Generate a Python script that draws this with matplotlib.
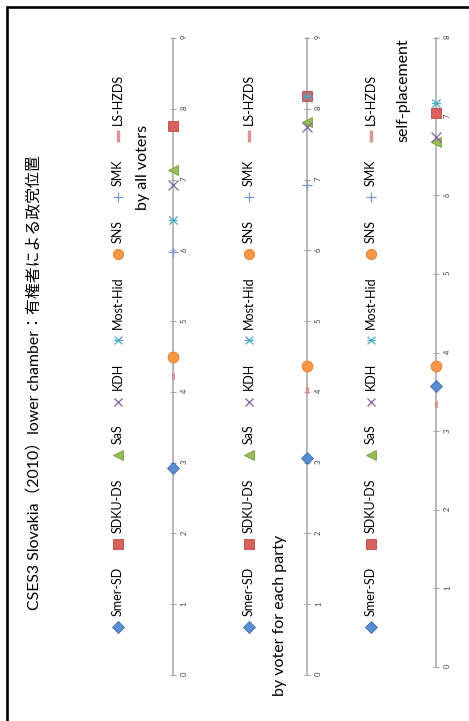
import matplotlib
matplotlib.use("Agg")
import matplotlib.pyplot as plt
import numpy as np
from matplotlib.path import Path

plt.rcParams['font.family'] = ['Lato', 'Noto Sans CJK JP', 'DejaVu Sans']

# ---- data -------------------------------------------------------------
title = "CSES3 Slovakia（2010）lower chamber：有権者による政党位置"
parties = ["Smer-SD", "SDKU-DS", "SaS", "KDH", "Most-Hid", "SNS", "SMK", "LS-HZDS"]
panel_titles = ["by all voters", "by voter for each party", "self-placement"]

by_all_voters = [2.92, 7.75, 7.14, 6.93, 6.43, 4.50, 5.98, 4.23]
by_own_voters = [3.07, 8.18, 7.82, 7.74, 8.18, 4.37, 6.92, 4.03]
self_placement = [3.57, 7.04, 6.68, 6.74, 7.17, 3.83, np.nan, 3.35]

scale_max = [9, 9, 8]

# ---- styles -----------------------------------------------------------
star_path = Path([(-1, -1), (1, 1), (-1, 1), (1, -1), (-1.1, 0), (1.1, 0)],
                 [Path.MOVETO, Path.LINETO, Path.MOVETO, Path.LINETO, Path.MOVETO, Path.LINETO])
dash_path = Path([(-0.4, -1), (0.4, -1), (0.4, 1), (-0.4, 1), (-0.4, -1)],
                 [Path.MOVETO, Path.LINETO, Path.LINETO, Path.LINETO, Path.CLOSEPOLY])

styles = [
    dict(marker='D', ms=6.4, mfc='#5B8CD3', mec='#3F6DB0', mew=0.6),
    dict(marker='s', ms=7.2, mfc='#D9605D', mec='#B84B48', mew=0.6),
    dict(marker='<', ms=7.2, mfc='#9BBB59', mec='#7A9A3C', mew=0.6),
    dict(marker='x', ms=6.5, mfc='none', mec='#8064A2', mew=0.9),
    dict(marker=star_path, ms=6.5, mfc='none', mec='#4BACC6', mew=0.9),
    dict(marker='o', ms=7.8, mfc='#F79646', mec='#E07E2C', mew=0.6),
    dict(marker='+', ms=7.0, mfc='none', mec='#7896C8', mew=0.9),
    dict(marker=dash_path, ms=5.0, mfc='#E0908E', mec='#D37F7D', mew=0.4),
]

W, H = 469, 721
fig = plt.figure(figsize=(W / 100, H / 100), dpi=100)

# full-figure layer in pixel coordinates for frame, titles and legends
lay = fig.add_axes([0, 0, 1, 1])
lay.set_xlim(0, W)
lay.set_ylim(H, 0)
lay.axis('off')

# outer frame (left and top edges)
lay.plot([7, 7, W + 5], [H + 5, 6.5, 6.5], color='black', lw=1.9,
         solid_joinstyle='miter', clip_on=False)

lay.text(35, 383, title, rotation=90, ha='center', va='center',
         fontsize=11.4, color='black')

# panel geometry: (axis x, pixel of top tick, pixel of 0 tick)
panel_geom = [(172.5, 38, 675), (307, 38, 675), (436, 38, 667)]
legend_x = [118, 249, 371]
subtitle_pos = [(143, 167), (280, 615), (403, 90)]
series = [by_all_voters, by_own_voters, self_placement]

fig.canvas.draw()
renderer = fig.canvas.get_renderer()

for p, (xc, top, bot) in enumerate(panel_geom):
    ax = fig.add_axes([(xc - 30) / W, 1 - bot / H, 60 / W, (bot - top) / H])
    ax.set_xlim(-30, 30)
    ax.set_ylim(0, scale_max[p])
    ax.patch.set_alpha(0)
    for s in ['left', 'top', 'bottom']:
        ax.spines[s].set_visible(False)
    ax.spines['right'].set_position(('data', 0))
    ax.spines['right'].set_color('#A6A6A6')
    ax.spines['right'].set_linewidth(1.1)
    ax.xaxis.set_visible(False)
    ax.yaxis.tick_right()
    ax.set_yticks(range(scale_max[p] + 1))
    ax.tick_params(axis='y', direction='inout', length=4.5, width=0.8,
                   color='#A6A6A6', labelsize=5.5, labelcolor='#404040',
                   pad=3.5, labelrotation=90)

    for i, v in enumerate(series[p]):
        if np.isnan(v):
            continue
        st = styles[i]
        ax.plot([0], [v], linestyle='none', marker=st['marker'], markersize=st['ms'],
                markerfacecolor=st['mfc'], markeredgecolor=st['mec'],
                markeredgewidth=st['mew'], clip_on=False, zorder=3 + i)

    # panel subtitle
    sx, sy = subtitle_pos[p]
    lay.text(sx, sy, panel_titles[p], rotation=90, ha='center', va='center',
             fontsize=11.5, color='black')

    # legend row
    lx = legend_x[p]
    y = 627
    for i, name in enumerate(parties):
        st = styles[i]
        if i == 7:
            lay.plot([lx, lx], [y - 6, y + 6], color='#D99694', lw=2.4,
                     solid_capstyle='butt')
        else:
            lay.plot([lx], [y], linestyle='none', marker=st['marker'],
                     markersize=st['ms'] * 0.95, markerfacecolor=st['mfc'],
                     markeredgecolor=st['mec'], markeredgewidth=st['mew'])
        t = lay.text(lx, y - 11, name, rotation=90, rotation_mode='anchor',
                     ha='left', va='center', fontsize=9, color='black')
        ext = t.get_window_extent(renderer=renderer)
        y = y - 11 - ext.height - 23

fig.savefig("out.png", dpi=100)
